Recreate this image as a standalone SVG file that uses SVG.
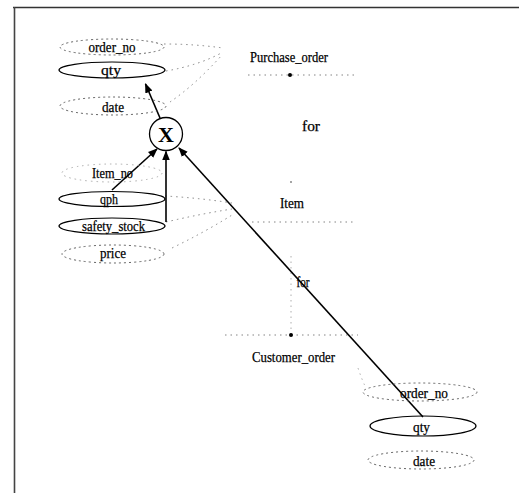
<svg xmlns="http://www.w3.org/2000/svg" width="519" height="493" viewBox="0 0 519 493">
<style>
.t{font-family:"Liberation Serif","Times New Roman",serif;font-size:15px;fill:#000;stroke:#000;stroke-width:0.25;text-anchor:middle}
.solid{fill:none;stroke:#000;stroke-width:1.2}
.dash{fill:none;stroke:#555;stroke-width:0.9;stroke-dasharray:2 3}
.faint{fill:none;stroke:#999;stroke-width:0.8;stroke-dasharray:1.5 4}
.dot{fill:none;stroke:#777;stroke-width:0.9;stroke-dasharray:1.5 4}
.arr{fill:none;stroke:#000;stroke-width:1.6;marker-end:url(#ah)}
</style>
<defs>
<marker id="ah" viewBox="0 0 10 10" refX="9" refY="5" markerWidth="6" markerHeight="6" orient="auto" markerUnits="strokeWidth">
<path d="M0,1 L10,5 L0,9 Z" fill="#000"/>
</marker>
</defs>
<rect width="519" height="493" fill="#fff"/>
<g id="frame">
<line x1="13" y1="7.5" x2="519" y2="7.5" stroke="#333" stroke-width="1.5"/>
<line x1="14.5" y1="7" x2="14.5" y2="493" stroke="#444" stroke-width="1.6"/>
</g>
<g id="connectors">
<path class="dot" d="M164,44 Q195,44 223,48"/>
<path class="dot" d="M166,71 Q200,65 223,52"/>
<path class="dot" d="M170,102 Q195,85 222,55"/>
<path class="dot" d="M248,75 H357"/>
<path class="dot" d="M165,196 Q200,198 232,203"/>
<path class="dot" d="M166,222 Q200,214 232,209"/>
<path class="dot" d="M172,248 Q205,232 232,215"/>
<path class="dot" d="M252,222 H353"/>
<path class="faint" d="M291,256 V335"/>
<path class="dot" d="M225,335 H358"/>
<path class="faint" d="M358,368 Q362,380 366,388"/>
<line class="arr" x1="160" y1="118" x2="145.5" y2="84"/>
<line class="arr" x1="112" y1="190" x2="157" y2="149"/>
<line class="arr" x1="166" y1="222" x2="166" y2="151.5"/>
<line class="arr" x1="423" y1="417" x2="179" y2="148"/>
<circle cx="290" cy="75" r="2" fill="#000"/>
<circle cx="291" cy="182" r="0.8" fill="#333"/>
<circle cx="291" cy="335" r="2" fill="#000"/>
</g>
<g id="n_po_order_no"><ellipse class="dash" cx="112" cy="47" rx="52" ry="8"/><text class="t" x="112" y="51.5" textLength="47" lengthAdjust="spacingAndGlyphs">order_no</text></g>
<g id="n_po_qty"><ellipse class="solid" cx="112" cy="70" rx="53" ry="8"/><text class="t" x="111" y="75" textLength="20" lengthAdjust="spacingAndGlyphs">qty</text></g>
<g id="n_po_date"><ellipse class="dash" cx="113" cy="106" rx="53" ry="9"/><text class="t" x="113" y="111.5" textLength="22" lengthAdjust="spacingAndGlyphs">date</text></g>
<g id="n_x"><circle cx="166" cy="134" r="16.5" fill="#fff" stroke="#000" stroke-width="1.3"/><text x="166" y="142" style="font-family:'Liberation Serif','Times New Roman',serif;font-size:22px;font-weight:bold;text-anchor:middle">X</text></g>
<g id="n_item_no"><ellipse class="faint" cx="112" cy="173" rx="50" ry="9"/><text class="t" x="112.5" y="178" textLength="41" lengthAdjust="spacingAndGlyphs">Item_no</text></g>
<g id="n_qph"><ellipse class="solid" cx="112" cy="199" rx="53" ry="7.5"/><text class="t" x="109" y="203.5" textLength="18" lengthAdjust="spacingAndGlyphs">qph</text></g>
<g id="n_safety_stock"><ellipse class="solid" cx="112" cy="226" rx="53" ry="8"/><text class="t" x="113.5" y="230.5" textLength="63" lengthAdjust="spacingAndGlyphs">safety_stock</text></g>
<g id="n_price"><ellipse class="dash" cx="113" cy="254" rx="51" ry="9"/><text class="t" x="113" y="258" textLength="26" lengthAdjust="spacingAndGlyphs">price</text></g>
<g id="n_purchase_order"><text class="t" x="289" y="62" textLength="78" lengthAdjust="spacingAndGlyphs">Purchase_order</text></g>
<g id="n_for1"><text class="t" x="311" y="131" textLength="18" lengthAdjust="spacingAndGlyphs">for</text></g>
<g id="n_item"><text class="t" x="292" y="207.5" textLength="24" lengthAdjust="spacingAndGlyphs">Item</text></g>
<g id="n_for2"><text class="t" x="303" y="287" textLength="13" lengthAdjust="spacingAndGlyphs">for</text></g>
<g id="n_customer_order"><text class="t" x="293.5" y="361.5" textLength="83" lengthAdjust="spacingAndGlyphs">Customer_order</text></g>
<g id="n_co_order_no"><ellipse class="dash" cx="420" cy="392" rx="57" ry="9"/><text class="t" x="424" y="398" textLength="48" lengthAdjust="spacingAndGlyphs">order_no</text></g>
<g id="n_co_qty"><ellipse class="solid" cx="423" cy="426" rx="53" ry="10"/><text class="t" x="421.5" y="432" textLength="17" lengthAdjust="spacingAndGlyphs">qty</text></g>
<g id="n_co_date"><ellipse class="dash" cx="421" cy="460" rx="53" ry="9"/><text class="t" x="424" y="465.5" textLength="22" lengthAdjust="spacingAndGlyphs">date</text></g>
</svg>
